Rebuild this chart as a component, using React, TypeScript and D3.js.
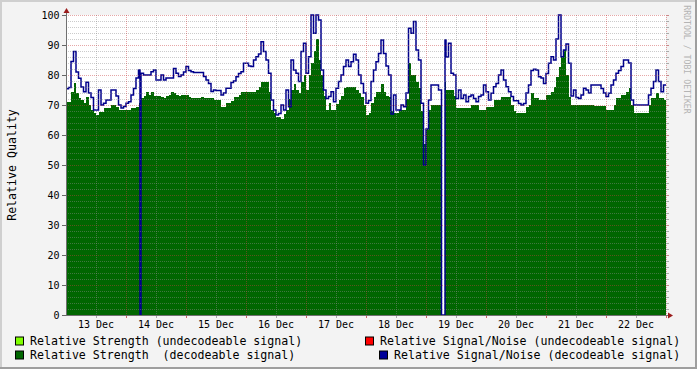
import React from "react";
import * as d3 from "d3";

// ---- data (hourly samples starting 13 Dec 00:00) ----
const STEP_HOURS = 1;
const strengthDecodeable = [
  71.1, 71.1, 74.5, 77.2, 74, 72.2, 71.7, 70.6, 72.8, 70,
  68.3, 67.2, 66.7, 67.8, 67.8, 68.9, 68.9, 68.9, 70, 70,
  69.5, 68.3, 68.3, 68.3, 68.3, 68.3, 68.9, 69, 69.4, 70.6,
  72.2, 73, 74.4, 73.3, 74.4, 73, 73, 73, 72.8, 72.2,
  73, 73.3, 74.4, 73.9, 73.3, 73, 73.3, 73.3, 73.3, 72.8,
  72.2, 72.2, 72.2, 72.2, 72.8, 72.2, 72.2, 72.2, 72.2, 71.7,
  71.7, 71.7, 69.4, 69.4, 70.6, 70.6, 71.5, 72.8, 72.8, 73.5,
  74.4, 74.4, 74.4, 74.4, 74.4, 74.4, 75, 76.1, 77.8, 77.8,
  77.8, 74.4, 68.3, 67.5, 66, 66, 65.5, 67, 68.3, 72,
  75, 77, 75, 74, 77.8, 80, 75, 80, 84, 88,
  92, 85, 80, 73, 68.3, 70.6, 68.3, 68.5, 70.5, 71.7,
  73, 75.6, 76.1, 76.1, 76.1, 76.1, 75, 74, 72.8, 70,
  66.7, 67.5, 70.6, 72.8, 74.4, 74.4, 77, 74.4, 73, 72.8,
  68, 67.2, 67.2, 68.3, 68.3, 68.3, 72, 83.9, 80, 80,
  77.8, 75.6, 68, 57, 62, 68.3, 70, 70, 70, 70,
  70, 77.8, 75, 75, 75, 73, 69, 68.9, 68.9, 68.9,
  68.9, 68.9, 70, 70, 70, 68.3, 68.3, 68.3, 69.4, 69.4,
  69.4, 71.7, 71.7, 71.7, 72.8, 72.8, 72.8, 72.8, 70, 68,
  67.2, 67.2, 67.2, 67.2, 69.4, 70, 73.9, 72.2, 72.2, 71.7,
  71.7, 71.7, 73.3, 73.5, 74.4, 76.1, 79.4, 82.8, 86, 88.3,
  80, 72.8, 70, 70, 70, 70, 70, 70, 70, 70,
  70, 69.7, 69.7, 69.7, 69.7, 69.7, 68.3, 68.3, 68.3, 70,
  72.2, 72.2, 73.3, 73.3, 74.4, 75.6, 70, 67.2, 67.2, 67.2,
  67.2, 67.2, 67.2, 70, 72.2, 72.2, 73.9, 72.2, 72.2, 71.7,
];
const snrDecodeable = [
  75.4, 75.8, 84.5, 87.8, 81, 78.9, 76, 74.4, 77.6, 74,
  72.5, 68.3, 68.3, 75, 70, 70.6, 71.7, 71.7, 75, 75,
  73, 70, 69, 69.5, 70.6, 71.1, 73.3, 75.5, 79, 81.7,
  80.6, 80, 80, 80, 81.1, 81.7, 78.3, 78.3, 80, 78.3,
  79, 79, 79, 82.2, 80.6, 79.5, 80, 81, 82.8, 81.5,
  81.1, 80.8, 80.8, 80.8, 80.8, 79.5, 78.3, 77.2, 74.5, 75,
  74.8, 74.8, 73.3, 74, 75.6, 75.6, 77.5, 78, 79.4, 80.5,
  81.1, 83.9, 83.9, 83, 82.8, 85, 86.1, 87, 91.1, 87.8,
  85, 80.6, 71.7, 68.3, 66.7, 67.2, 70, 68.3, 75, 69.4,
  85, 81.7, 80.6, 77.8, 87.8, 90.6, 80.6, 86.1, 100, 93.9,
  100, 98.3, 81.7, 75, 72.2, 72.8, 74.4, 71.1, 75.6, 77.8,
  80, 82.8, 85, 82.8, 84.4, 86.9, 85, 80, 77.2, 74,
  70.6, 71.5, 77.8, 81.7, 84.4, 87.2, 91.7, 87.2, 83, 80,
  67, 73.3, 68.3, 68.3, 70, 69.4, 74, 95.6, 93.9, 97.8,
  88.3, 85, 70.6, 50, 62, 71.7, 76.7, 76.7, 76.7, 75,
  75, 91.7, 86, 90.6, 80.6, 80, 72.2, 75, 72.2, 73.3,
  71.1, 72.8, 73.3, 72.2, 71.1, 72.8, 73.3, 76.7, 74.4, 71.7,
  73.9, 76.1, 77.2, 80, 81.7, 78.3, 76.1, 74.4, 72.8, 71.4,
  71.4, 70.5, 70, 70.5, 74, 76.7, 81.5, 81.9, 81.7, 79.4,
  79, 77.2, 80.5, 83.9, 86.1, 85, 92, 100, 86.1, 88.3,
  90.3, 83.9, 73, 75, 72.5, 72.2, 73.3, 75.6, 75, 74,
  76.7, 76.7, 76.7, 76.7, 75.5, 74, 72.8, 73.9, 76.7, 78.3,
  80.6, 81.5, 82.8, 85, 85, 84, 71.7, 70, 70, 70,
  70, 70, 70, 73.3, 75.6, 77.8, 81.7, 77.8, 74.4, 76.7,
];
// signal dropouts (hour offset from start, duration in hours)
const dropoutStart = [29.6, 150.2];
const dropoutHours = [0.4, 1.4];

const dayLabels = ["13 Dec", "14 Dec", "15 Dec", "16 Dec", "17 Dec", "18 Dec", "19 Dec", "20 Dec", "21 Dec", "22 Dec"];
const yTickValues = [0, 10, 20, 30, 40, 50, 60, 70, 80, 90, 100];

const legendItems = [
  { label: "Relative Strength (undecodeable signal)", color: "#80ff00" },
  { label: "Relative Signal/Noise (undecodeable signal)", color: "#ff0000" },
  { label: "Relative Strength  (decodeable signal)", color: "#006600" },
  { label: "Relative Signal/Noise (decodeable signal)", color: "#000099" },
];

// ---- layout ----
const W = 697, H = 369;
const L = 66, R = 666, T = 15, B = 315;
const FONT = "'DejaVu Sans Mono', monospace";

type Step = { t0: number; t1: number; v: number | null };

function buildSteps(values: number[]): Step[] {
  let steps: Step[] = values.map((v, i) => ({ t0: i * STEP_HOURS, t1: (i + 1) * STEP_HOURS, v }));
  dropoutStart.forEach((a, k) => {
    const b = a + dropoutHours[k];
    steps = steps.flatMap((s) => {
      if (b <= s.t0 || a >= s.t1) return [s];
      const parts: Step[] = [];
      if (a > s.t0) parts.push({ t0: s.t0, t1: a, v: s.v });
      parts.push({ t0: Math.max(a, s.t0), t1: Math.min(b, s.t1), v: null });
      if (b < s.t1) parts.push({ t0: b, t1: s.t1, v: s.v });
      return parts;
    });
  });
  return steps;
}

export default function App() {
  const totalHours = 240;
  const x = d3.scaleLinear().domain([0, totalHours]).range([L, R]);
  const y = d3.scaleLinear().domain([0, 100]).range([B, T]);

  const gSteps = buildSteps(strengthDecodeable);
  const bSteps = buildSteps(snrDecodeable);

  const areaPts = gSteps.flatMap((s) => [{ t: s.t0, v: s.v }, { t: s.t1, v: s.v }]);
  const area = d3
    .area<{ t: number; v: number | null }>()
    .defined((d) => d.v != null)
    .x((d) => x(d.t))
    .y0(y(0))
    .y1((d) => y(d.v as number));

  const linePts = bSteps.flatMap((s) => [
    { t: s.t0, v: s.v ?? 0 },
    { t: s.t1, v: s.v ?? 0 },
  ]);
  const line = d3
    .line<{ t: number; v: number }>()
    .x((d) => x(d.t))
    .y((d) => y(d.v));

  const minorY = d3.range(2, 100, 2).filter((v) => v % 10 !== 0);
  const majorY = d3.range(10, 101, 10);
  const minorX = d3.range(12, totalHours, 24);
  const majorX = d3.range(24, totalHours + 1, 24);

  const minorStroke = "rgba(140,140,140,0.45)";
  const majorStroke = "rgba(200,60,60,0.45)";

  return (
    <svg width={W} height={H} style={{ position: "absolute", left: 0, top: 0 }} xmlns="http://www.w3.org/2000/svg">
      {/* background + frame */}
      <rect x={0} y={0} width={W} height={H} fill="#f3f3f3" />
      <rect x={0} y={0} width={W} height={2} fill="#cfcfcf" />
      <rect x={0} y={0} width={2} height={H} fill="#cfcfcf" />
      <rect x={0} y={H - 2} width={W} height={2} fill="#9e9e9e" />
      <rect x={W - 2} y={0} width={2} height={H} fill="#9e9e9e" />

      {/* plot area */}
      <rect x={L} y={T} width={R - L} height={B - T} fill="#ffffff" />

      <path d={area(areaPts) || ""} fill="#006600" shapeRendering="crispEdges" />
      <path d={line(linePts) || ""} fill="none" stroke="#00008c" strokeWidth={1.5} strokeLinejoin="miter" />

      {/* grid */}
      <g strokeDasharray="1,1" strokeWidth={1}>
        {minorY.map((v) => (
          <line key={"my" + v} x1={L} x2={R} y1={y(v) + 0.5} y2={y(v) + 0.5} stroke={minorStroke} />
        ))}
        {minorX.map((h) => (
          <line key={"mx" + h} x1={x(h) + 0.5} x2={x(h) + 0.5} y1={T} y2={B} stroke={minorStroke} />
        ))}
        {majorY.map((v) => (
          <line key={"My" + v} x1={L} x2={R} y1={y(v) + 0.5} y2={y(v) + 0.5} stroke={majorStroke} />
        ))}
        {majorX.map((h) => (
          <line key={"Mx" + h} x1={x(h) + 0.5} x2={x(h) + 0.5} y1={T} y2={B} stroke={majorStroke} />
        ))}
      </g>

      {/* ticks */}
      <g strokeWidth={1}>
        {majorY.concat([0]).map((v) => (
          <line key={"lt" + v} x1={L - 4} x2={L} y1={y(v) + 0.5} y2={y(v) + 0.5} stroke="#666" />
        ))}
        {d3.range(0, 101, 2).map((v) => (
          <line key={"rt" + v} x1={R} x2={R + 3} y1={y(v) + 0.5} y2={y(v) + 0.5} stroke={v % 10 === 0 ? "#c88" : "#aaa"} />
        ))}
        {minorX.map((h) => (
          <line key={"bt" + h} x1={x(h) + 0.5} x2={x(h) + 0.5} y1={B} y2={B + 3} stroke="#aaa" />
        ))}
        {majorX.map((h) => (
          <line key={"Bt" + h} x1={x(h) + 0.5} x2={x(h) + 0.5} y1={B} y2={B + 3} stroke="#c66" />
        ))}
      </g>

      {/* axes */}
      <line x1={L + 0.5} x2={L + 0.5} y1={B + 1} y2={10} stroke="#707070" strokeWidth={1} />
      <line x1={L} x2={670} y1={B + 0.5} y2={B + 0.5} stroke="#707070" strokeWidth={1} />
      <path d={`M${L - 2.5},${13} L${L + 3.5},${13} L${L + 0.5},${8} Z`} fill="#9b1c1c" />
      <path d={`M${668},${B - 2.5} L${668},${B + 3.5} L${673},${B + 0.5} Z`} fill="#9b1c1c" />

      {/* axis labels */}
      <g fontFamily={FONT} fontSize={10} fill="#000">
        {yTickValues.map((v) => (
          <text key={"yl" + v} x={59.5} y={y(v)} textAnchor="end" dominantBaseline="central">
            {v}
          </text>
        ))}
        {dayLabels.map((lab, i) => (
          <text key={lab} x={x(i * 24 + 12)} y={324.5} textAnchor="middle" dominantBaseline="central">
            {lab}
          </text>
        ))}
      </g>

      <text
        transform={`translate(11.5,165) rotate(-90)`}
        fontFamily={FONT}
        fontSize={11.6}
        textAnchor="middle"
        dominantBaseline="central"
        fill="#000"
      >
        Relative Quality
      </text>

      <text
        transform={`translate(687,59.5) rotate(90)`}
        fontFamily={FONT}
        fontSize={8.2}
        textAnchor="middle"
        dominantBaseline="central"
        fill="#b4b4b4"
      >
        RRDTOOL / TOBI OETIKER
      </text>

      {/* legend */}
      <g fontFamily={FONT} fontSize={11.6} fill="#000">
        {[
          { item: legendItems[0], sx: 15, tx: 30, cy: 341 },
          { item: legendItems[1], sx: 365, tx: 380, cy: 341 },
          { item: legendItems[2], sx: 15, tx: 30, cy: 355 },
          { item: legendItems[3], sx: 379, tx: 394, cy: 355 },
        ].map(({ item, sx, tx, cy }) => (
          <g key={item.label}>
            <rect x={sx + 0.5} y={cy - 4} width={8} height={8} fill={item.color} stroke="#000" strokeWidth={1} />
            <text x={tx} y={cy} dominantBaseline="central" style={{ whiteSpace: "pre" }} xmlSpace="preserve">
              {item.label}
            </text>
          </g>
        ))}
      </g>
    </svg>
  );
}
